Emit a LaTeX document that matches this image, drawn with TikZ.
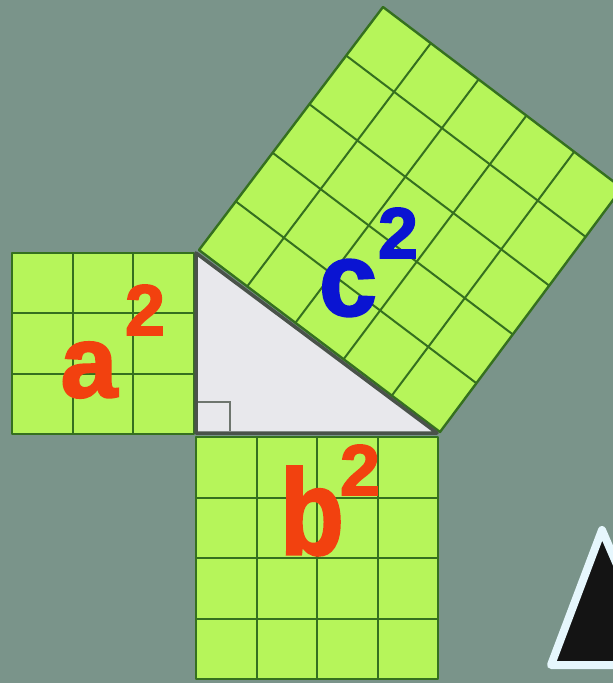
\documentclass[tikz,border=0pt]{standalone}
\usepackage{fontspec}
\setmainfont{Liberation Sans}
\newfontfamily\heavy[FakeBold=2.2]{Liberation Sans Bold}
\usetikzlibrary{calc}
\definecolor{bg}{HTML}{7A948A}
\definecolor{sq}{HTML}{B6F55A}
\definecolor{gl}{HTML}{35701F}
\definecolor{tri}{HTML}{E8E8EC}
\definecolor{trl}{HTML}{4A524A}
\definecolor{lo}{HTML}{F2410F}
\definecolor{lb}{HTML}{0A14D2}
\tikzset{
  sqfill/.style={fill=sq, draw=gl, line width=2.4pt, line join=round},
  gridline/.style={draw=gl, line width=2pt},
  lbl/.style={inner sep=0pt, outer sep=0pt},
}
\begin{document}
\begin{tikzpicture}[x=1pt,y=-1pt]
\useasboundingbox (0,0) rectangle (613,683);
\clip (0,0) rectangle (613,683);
\fill[bg] (0,0) rectangle (613,683);

% a^2 square (3x3)
\coordinate (a1) at (12,253);
\coordinate (a2) at (194,434);
\draw[sqfill] (a1) rectangle (a2);
\foreach \i in {1,2}{
  \draw[gridline] ($(a1)+(\i*60.67,0)$) -- ($(a1)+(\i*60.67,181)$);
  \draw[gridline] ($(a1)+(0,\i*60.33)$) -- ($(a1)+(182,\i*60.33)$);
}

% b^2 square (4x4)
\coordinate (b1) at (196,437);
\coordinate (b2) at (438,679);
\draw[sqfill] (b1) rectangle (b2);
\foreach \i in {1,2,3}{
  \draw[gridline] ($(b1)+(\i*60.5,0)$) -- ($(b1)+(\i*60.5,242)$);
  \draw[gridline] ($(b1)+(0,\i*60.5)$) -- ($(b1)+(242,\i*60.5)$);
}

% c^2 square (5x5)
\coordinate (L) at (199,250);
\coordinate (T) at (383,7);
\coordinate (R) at (622,188);
\coordinate (Bt) at (440,432);
\draw[sqfill] (L) -- (T) -- (R) -- (Bt) -- cycle;
\foreach \i in {1,...,4}{
  \draw[gridline] ($(L)!\i/5!(Bt)$) -- ($(T)!\i/5!(R)$);
  \draw[gridline] ($(L)!\i/5!(T)$) -- ($(Bt)!\i/5!(R)$);
}

% right triangle
\coordinate (A) at (196,253);
\coordinate (C) at (196,433);
\coordinate (B) at (437,433);
\draw[fill=tri, draw=trl, line width=3.5pt, line join=round] (A) -- (C) -- (B) -- cycle;
\coordinate (r1) at (198,402);
\coordinate (r2) at (230,431);
\draw[trl!80, line width=1.5pt] (r1) -| (r2);

% labels
\node[lbl, text=lo, font=\fontsize{102}{102}\heavy] (la) at (89,370) {a};
\node[lbl, text=lo, font=\fontsize{72}{72}\heavy] (la2) at (145,310) {2};
\node[lbl, text=lo, font=\fontsize{110}{110}\heavy] (lb) at (312,511) {\scalebox{0.95}[1.1]{b}};
\node[lbl, text=lo, font=\fontsize{72}{72}\heavy] (lb2) at (360,470) {2};
\node[lbl, text=lb, font=\fontsize{104}{104}\heavy] (lc) at (348,288) {c};
\node[lbl, text=lb, font=\fontsize{72}{72}\heavy] (lc2) at (398,233) {2};

% partial black triangle at bottom right
\coordinate (t1) at (602,530);
\coordinate (t2) at (551,665);
\coordinate (t3) at (660,665);
\draw[fill=black!92, draw=white!90!cyan, line width=8pt, line join=round] (t1) -- (t2) -- (t3) -- cycle;
\end{tikzpicture}
\end{document}
